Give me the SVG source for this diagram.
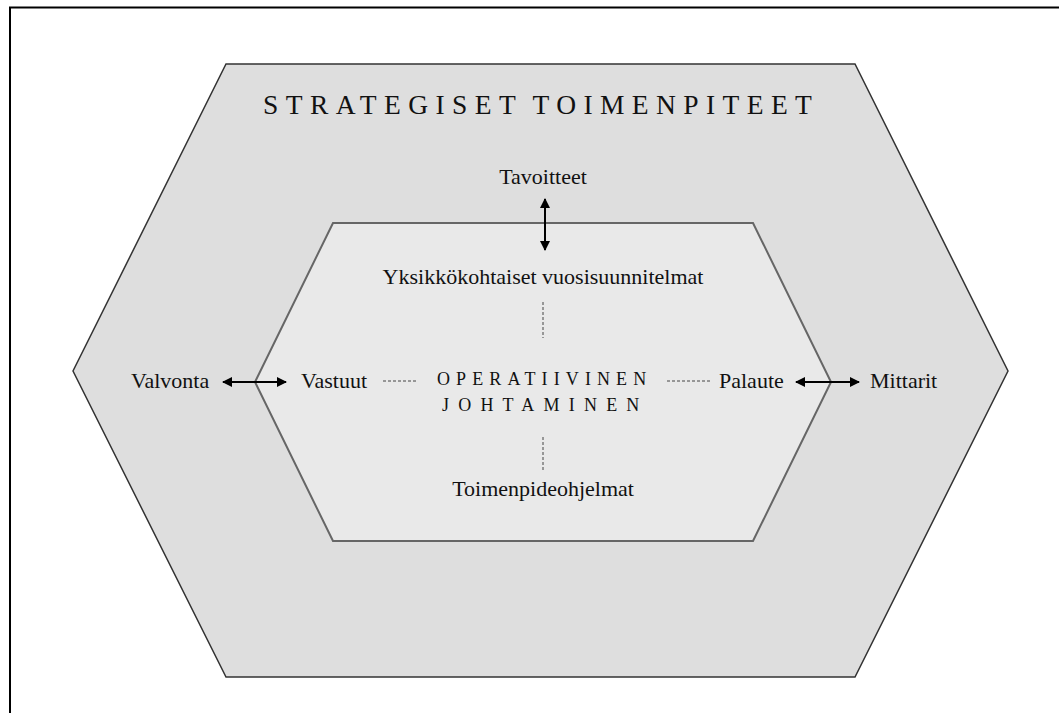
<svg xmlns="http://www.w3.org/2000/svg" width="1059" height="713" viewBox="0 0 1059 713">
<style>
.t{font-family:"Liberation Serif","Times New Roman",serif;fill:#111;}
.lbl{font-size:22px;}
.dash{stroke:#444;stroke-width:1;stroke-dasharray:3 2;fill:none;}
.arr{stroke:#000;stroke-width:2;fill:none;marker-start:url(#ah);marker-end:url(#ah);}
</style>
<defs>
<marker id="ah" viewBox="0 0 10 10" refX="9" refY="5" markerWidth="5" markerHeight="5" orient="auto-start-reverse" markerUnits="strokeWidth">
<path d="M0,0 L10,5 L0,10 Z" fill="#000"/>
</marker>
</defs>
<rect width="1059" height="713" fill="#fff"/>
<path d="M10,713 L10,7.5 L1059,7.5" fill="none" stroke="#000" stroke-width="2"/>
<g id="strategiset">
<polygon points="226,64 855,64 1008,371 855,677 226,677 73,371" fill="#dedede" stroke="#333" stroke-width="1.5"/>
<text class="t" x="263" y="114" font-size="27.5" letter-spacing="7.4" word-spacing="-4">STRATEGISET TOIMENPITEET</text>
</g>
<g id="operatiivinen">
<polygon points="333,223 753,223 831,382 753,541 333,541 255,382" fill="#e9e9e9" stroke="#666" stroke-width="2"/>
<text class="t" x="437" y="385" font-size="18" letter-spacing="6.1">OPERATIIVINEN</text>
<text class="t" x="442" y="411" font-size="18" letter-spacing="9.2">JOHTAMINEN</text>
</g>
<g id="tavoitteet"><text class="t lbl" x="543" y="184" text-anchor="middle">Tavoitteet</text></g>
<g id="yksikko"><text class="t lbl" x="543" y="284" text-anchor="middle">Yksikkökohtaiset vuosisuunnitelmat</text></g>
<g id="toimenpide"><text class="t lbl" x="543" y="496" text-anchor="middle">Toimenpideohjelmat</text></g>
<g id="valvonta"><text class="t lbl" x="131" y="388">Valvonta</text></g>
<g id="vastuut"><text class="t lbl" x="301" y="388">Vastuut</text></g>
<g id="palaute"><text class="t lbl" x="719" y="388">Palaute</text></g>
<g id="mittarit"><text class="t lbl" x="870" y="388">Mittarit</text></g>
<g id="connectors">
<line class="arr" x1="545" y1="199" x2="545" y2="250"/>
<line class="arr" x1="223" y1="382" x2="286" y2="382"/>
<line class="arr" x1="796" y1="382" x2="859" y2="382"/>
<line class="dash" x1="543" y1="302" x2="543" y2="338"/>
<line class="dash" x1="543" y1="437" x2="543" y2="470"/>
<line class="dash" x1="383" y1="381" x2="418" y2="381"/>
<line class="dash" x1="667" y1="381" x2="712" y2="381"/>
</g>
</svg>
